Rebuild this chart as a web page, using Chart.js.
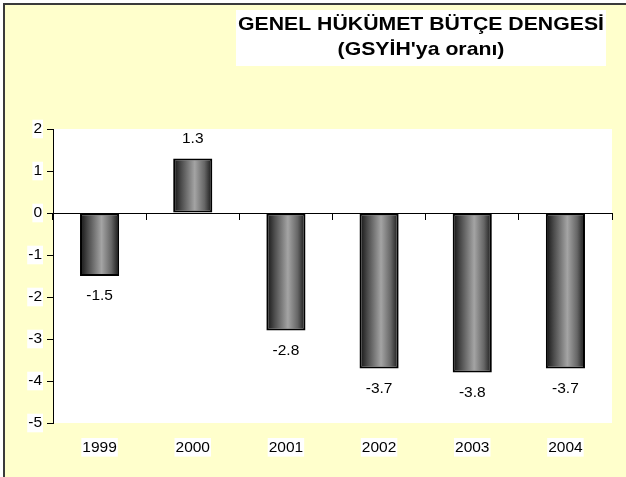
<!DOCTYPE html>
<html>
<head>
<meta charset="utf-8">
<script src="https://cdn.jsdelivr.net/npm/chart.js@4.4.1/dist/chart.umd.min.js"></script>
<style>
  html, body { margin: 0; padding: 0; background: #fff; }
  #wrap { width: 626px; height: 477px; }
</style>
</head>
<body>
<div id="wrap"><canvas id="budgetChart" width="626" height="477"></canvas></div>
<script>
// Chart data
const years = ['1999', '2000', '2001', '2002', '2003', '2004'];
const balance = [-1.5, 1.3, -2.8, -3.7, -3.8, -3.7];
const titleLines = ['GENEL HÜKÜMET BÜTÇE DENGESİ', "(GSYİH'ya oranı)"];
const yTicks = { min: -5, max: 2, step: 1 };

const fontFamily = '"Liberation Sans", Arial, sans-serif';
const labelSize = 15.5;
const barShare = 0.42;
Chart.defaults.font.family = fontFamily;
Chart.defaults.color = '#000';

/**
 * Background, frame, white plot area and the title box
 */
const backgroundPlugin = {
    id: 'sheetBackground',
    beforeDraw(chart) {
        const ctx = chart.ctx;
        const area = chart.chartArea;
        ctx.save();
        ctx.fillStyle = '#ffffff';
        ctx.fillRect(0, 0, chart.width, chart.height);
        ctx.fillStyle = '#ffffcc';
        ctx.fillRect(5, 5, chart.width - 5, chart.height - 5);
        // frame (left + top only, rest is cut off)
        ctx.fillStyle = '#3a3a3a';
        ctx.fillRect(3, 3, 2, chart.height - 3);
        ctx.fillRect(3, 3, chart.width - 3, 2);
        // plot area
        ctx.fillStyle = '#ffffff';
        ctx.fillRect(area.left, area.top, area.right - area.left, area.bottom - area.top);
        // title box
        ctx.fillRect(236, 10, 370, 56);
        ctx.fillStyle = '#000';
        ctx.textAlign = 'center';
        ctx.textBaseline = 'alphabetic';
        ctx.font = 'bold 18.5px ' + fontFamily;
        // the original title is a bit wider than the font, so stretch it
        const stretch = 366 / ctx.measureText(titleLines[0]).width;
        ctx.translate(421, 0);
        ctx.scale(stretch, 1);
        ctx.fillText(titleLines[0], 0, 30);
        ctx.fillText(titleLines[1], 0, 55);
        ctx.restore();
    }
};

/**
 * Cylinder-like horizontal gradient for a bar
 */
function barGradient(context) {
    const chart = context.chart;
    const xs = chart.scales.x;
    if (!xs || context.dataIndex === undefined) return '#888';
    const w = xs.width / years.length * barShare;
    const cx = xs.getPixelForValue(context.dataIndex);
    if (!isFinite(w) || !isFinite(cx) || w <= 0) return '#888';
    const grad = chart.ctx.createLinearGradient(cx - w / 2, 0, cx + w / 2, 0);
    grad.addColorStop(0, '#111111');
    grad.addColorStop(0.2, '#4a4a4a');
    grad.addColorStop(0.55, '#a4a4a4');
    grad.addColorStop(0.8, '#666666');
    grad.addColorStop(1, '#141414');
    return grad;
}

/**
 * Value labels above / below each bar
 */
const valueLabelPlugin = {
    id: 'valueLabels',
    afterDatasetsDraw(chart) {
        const ctx = chart.ctx;
        ctx.save();
        ctx.font = labelSize + 'px ' + fontFamily;
        ctx.fillStyle = '#000';
        ctx.textAlign = 'center';
        ctx.textBaseline = 'middle';
        chart.getDatasetMeta(0).data.forEach((bar, i) => {
            const v = balance[i];
            const y = v >= 0 ? bar.y - 20 : bar.y + 20;
            ctx.fillText(v.toFixed(1), bar.x, y);
        });
        ctx.restore();
    }
};

new Chart(document.getElementById('budgetChart'), {
    type: 'bar',
    data: {
        labels: years,
        datasets: [{
            label: 'Bütçe dengesi',
            data: balance,
            backgroundColor: barGradient,
            borderColor: '#000',
            borderWidth: 2,
            borderSkipped: false,
            barPercentage: barShare,
            categoryPercentage: 1
        }]
    },
    options: {
        responsive: false,
        animation: false,
        layout: {
            padding: { top: 129, right: 14, left: 0, bottom: 0 }
        },
        plugins: {
            legend: { display: false },
            title: { display: false },
            tooltip: { enabled: false }
        },
        scales: {
            x: {
                position: 'bottom',
                grid: { display: false },
                border: { display: false },
                ticks: {
                    padding: 7,
                    font: { size: labelSize },
                    color: '#000',
                    showLabelBackdrop: true,
                    backdropColor: '#ffffff',
                    backdropPadding: { top: 0, bottom: 0, left: 1, right: 1 }
                },
                afterFit(scale) { scale.height = 54; }
            },
            // zero line with category tick marks
            xZero: {
                type: 'category',
                axis: 'x',
                labels: years,
                position: { y: 0 },
                offset: true,
                grid: {
                    offset: true,
                    drawOnChartArea: false,
                    tickLength: 6,
                    color: '#000'
                },
                border: { color: '#000', width: 1 },
                ticks: { display: false }
            },
            y: {
                min: yTicks.min,
                max: yTicks.max,
                ticks: {
                    stepSize: yTicks.step,
                    padding: 5,
                    font: { size: labelSize },
                    color: '#000',
                    showLabelBackdrop: true,
                    backdropColor: '#ffffff',
                    backdropPadding: { top: 0, bottom: 0, left: 1, right: 1 }
                },
                grid: {
                    drawOnChartArea: false,
                    tickLength: 6,
                    color: '#000'
                },
                border: { color: '#000', width: 1 },
                afterFit(scale) { scale.width = 53; }
            }
        }
    },
    plugins: [backgroundPlugin, valueLabelPlugin]
});
</script>
</body>
</html>
